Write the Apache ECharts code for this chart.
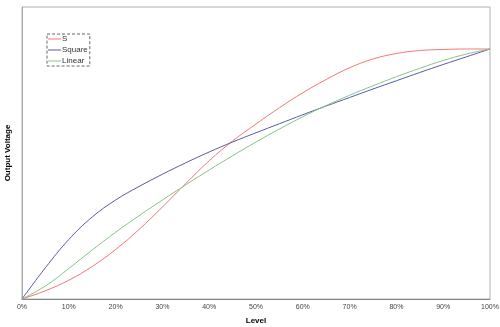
<!DOCTYPE html>
<html>
<head>
<meta charset="utf-8">
<script src="https://cdn.jsdelivr.net/npm/echarts@6/dist/echarts.min.js"></script>
<style>html,body{margin:0;padding:0;background:#fff}#c{width:500px;height:327px}</style>
</head>
<body>
<div id="c"></div>
<script>
const levels = [0,5,10,15,20,25,30,35,40,45,50,55,60,65,70,75,80,85,90,95,100];
const sValues = [0,0.033,0.075,0.13,0.198,0.278,0.368,0.462,0.553,0.632,0.70,0.765,0.825,0.878,0.925,0.96,0.982,0.994,0.998,1.0,1.0];
const squareValues = [0,0.125,0.238,0.328,0.396,0.45,0.499,0.545,0.588,0.628,0.665,0.701,0.737,0.772,0.806,0.84,0.873,0.906,0.938,0.969,1.0];
const linearValues = [0,0.052,0.122,0.196,0.267,0.333,0.396,0.457,0.516,0.573,0.628,0.68,0.729,0.774,0.815,0.853,0.889,0.923,0.954,0.98,1.0];
const xTickLabels = ['0%','10%','20%','30%','40%','50%','60%','70%','80%','90%','100%'];
const seriesNames = ['S','Square','Linear'];

const pairs = v => levels.map((l,i)=>[l,v[i]]);
const chart = echarts.init(document.getElementById('c'), null, {renderer:'canvas'});
chart.setOption({
  animation:false,
  backgroundColor:'#fff',
  grid:{left:22,right:10,top:7,bottom:28,show:true,borderColor:'#b0b0b0',borderWidth:1,outerBoundsMode:'none',containLabel:false},
  legend:{
    orient:'vertical',left:47,top:34,
    padding:[1,2,1,1],
    itemGap:3,itemWidth:13,itemHeight:1,
    icon:'rect',
    borderColor:'#666',borderWidth:1,borderType:[3,2],
    textStyle:{fontFamily:'Liberation Sans',fontSize:8,color:'#333',padding:[0,0,0,-4]},
    data:seriesNames
  },
  xAxis:{
    type:'value',min:0,max:100,interval:10,
    name:'Level',nameLocation:'middle',nameGap:18,
    nameTextStyle:{fontFamily:'Liberation Sans',fontSize:8,fontWeight:'bold',color:'#000'},
    axisLine:{show:true,lineStyle:{color:'#888'}},
    axisTick:{show:false},
    splitLine:{show:false},
    axisLabel:{fontFamily:'Liberation Sans',fontSize:7,color:'#444',margin:5,
      formatter:v=>xTickLabels[Math.round(v/10)]}
  },
  yAxis:{
    type:'value',min:0,max:1.168,
    name:'Output Voltage',nameLocation:'middle',nameGap:10,nameRotate:90,
    nameTextStyle:{fontFamily:'Liberation Sans',fontSize:8,fontWeight:'bold',color:'#000'},
    axisLine:{show:true,lineStyle:{color:'#aaa'}},
    axisTick:{show:false},axisLabel:{show:false},splitLine:{show:false}
  },
  series:[
    {name:seriesNames[0],type:'line',smooth:0.4,symbol:'none',data:pairs(sValues),lineStyle:{color:'#f07878',width:1},itemStyle:{color:'#f07878'}},
    {name:seriesNames[1],type:'line',smooth:0.4,symbol:'none',data:pairs(squareValues),lineStyle:{color:'#5a5aa8',width:1},itemStyle:{color:'#5a5aa8'}},
    {name:seriesNames[2],type:'line',smooth:0.4,symbol:'none',data:pairs(linearValues),lineStyle:{color:'#88c488',width:1},itemStyle:{color:'#88c488'}}
  ]
});
</script>
</body>
</html>
